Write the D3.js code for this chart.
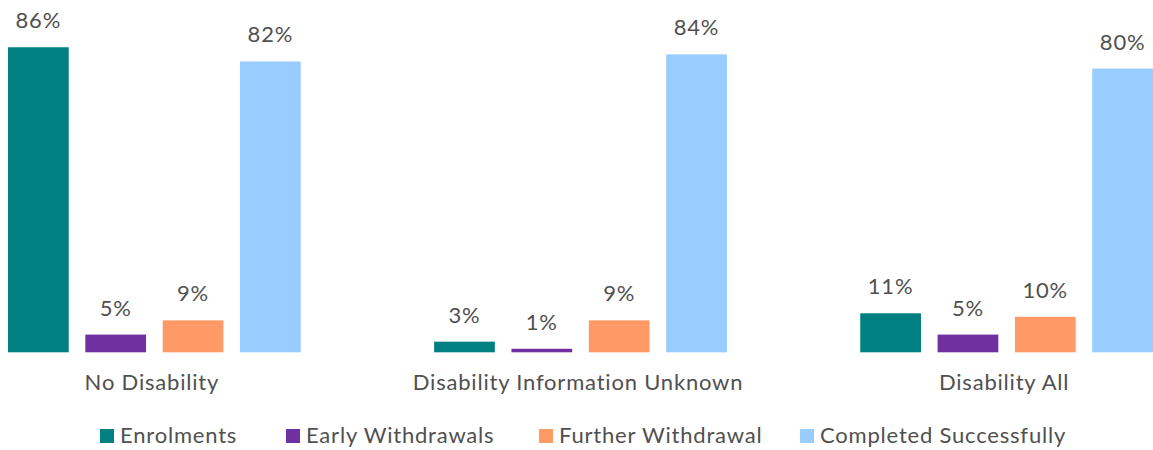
<!DOCTYPE html>
<html>
<head>
<meta charset="utf-8">
<script src="https://cdn.jsdelivr.net/npm/d3@7/dist/d3.min.js"></script>
<style>
  html, body { margin: 0; padding: 0; background: #fff; }
  svg { display: block; font-family: Lato, "Open Sans", sans-serif; letter-spacing: 0.8px; }
</style>
</head>
<body>
<svg id="chart" width="1153" height="450"></svg>
<script>
// Outcome shares (%) by disability status
const categories = ["No Disability", "Disability Information Unknown", "Disability All"];
const seriesNames = ["Enrolments", "Early Withdrawals", "Further Withdrawal", "Completed Successfully"];
const enrolments = [86, 3, 11];
const earlyWithdrawals = [5, 1, 5];
const furtherWithdrawal = [9, 9, 10];
const completedSuccessfully = [82, 84, 80];
const seriesColors = ["#008080", "#7030A0", "#FF9966", "#99CCFF"];

const seriesValues = [enrolments, earlyWithdrawals, furtherWithdrawal, completedSuccessfully];

const svg = d3.select("#chart");
const textColor = "#505050";
const fontFamily = "Lato, 'Open Sans', sans-serif";
const fontSize = 22;

const x0 = d3.scaleBand().domain(categories).range([8, 1153]).paddingInner(0.313).paddingOuter(0);
const x1 = d3.scaleBand().domain(seriesNames).range([0, x0.bandwidth()]).paddingInner(0.215).paddingOuter(0);
const y = d3.scaleLinear().domain([0, 100]).range([352.3, -2.4]);

const rows = categories.map((c, i) => ({
  category: c,
  values: seriesNames.map((s, j) => ({ series: s, value: seriesValues[j][i], color: seriesColors[j] }))
}));

const groups = svg.selectAll("g.group").data(rows).join("g")
  .attr("class", "group")
  .attr("transform", d => `translate(${x0(d.category)},0)`);

groups.selectAll("rect").data(d => d.values).join("rect")
  .attr("x", d => x1(d.series))
  .attr("width", x1.bandwidth())
  .attr("y", d => y(d.value))
  .attr("height", d => y(0) - y(d.value))
  .attr("fill", d => d.color);

groups.selectAll("text.val").data(d => d.values).join("text")
  .attr("class", "val")
  .attr("x", d => x1(d.series) + x1.bandwidth() / 2)
  .attr("y", d => y(d.value) - 19)
  .attr("text-anchor", "middle")
  .attr("font-size", fontSize)
  .attr("fill", textColor)
  .text(d => d.value + "%");

// Category axis labels
const xAxis = d3.axisBottom(x0).tickSize(0).tickPadding(0);
const axisG = svg.append("g").attr("transform", `translate(-2.5,${y(0)})`).call(xAxis);
axisG.select(".domain").remove();
axisG.selectAll("text")
  .attr("dy", null)
  .attr("y", 38)
  .attr("font-size", fontSize)
  .attr("font-family", fontFamily)
  .attr("fill", textColor);

// Legend
const legendX = [100, 286, 539, 800];
const legend = svg.append("g").selectAll("g").data(seriesNames).join("g")
  .attr("transform", (d, i) => `translate(${legendX[i]},429)`);
legend.append("rect")
  .attr("width", 14).attr("height", 14)
  .attr("fill", (d, i) => seriesColors[i]);
legend.append("text")
  .attr("x", 20).attr("y", 14)
  .attr("font-size", fontSize)
  .attr("fill", textColor)
  .text(d => d);
</script>
</body>
</html>
